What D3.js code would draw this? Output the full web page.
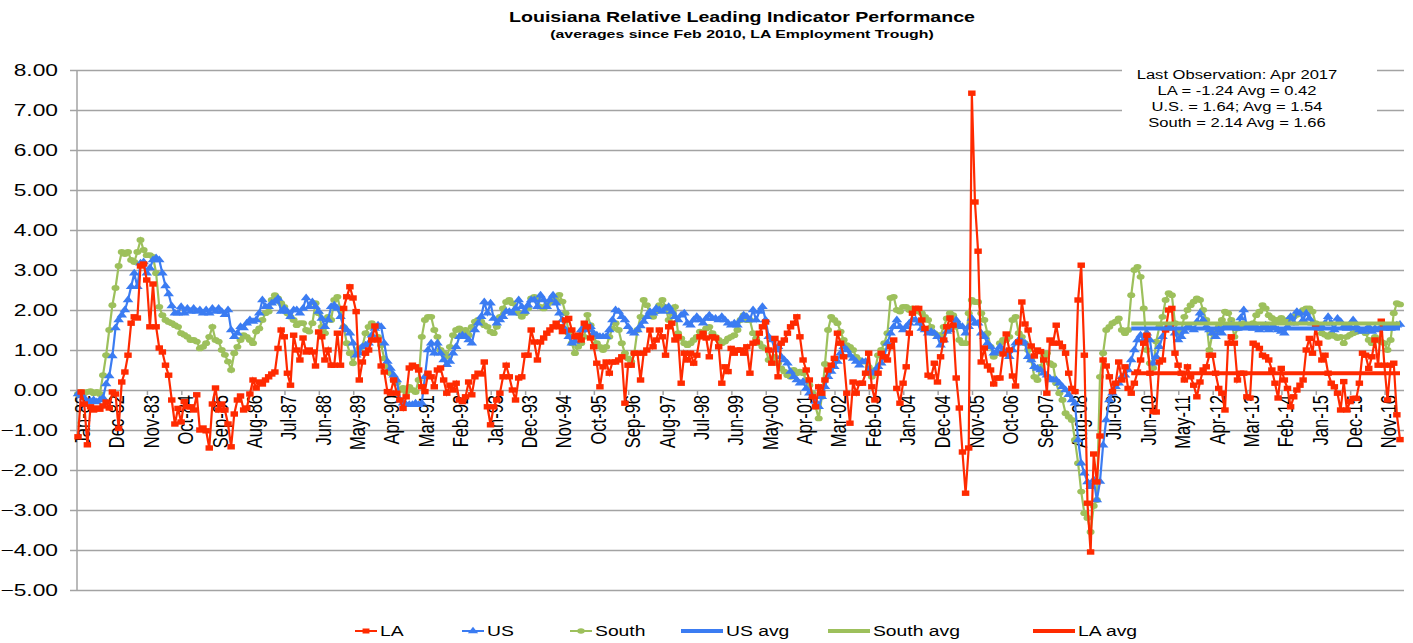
<!DOCTYPE html>
<html>
<head>
<meta charset="utf-8">
<script src="https://cdn.jsdelivr.net/npm/d3@7"></script>
<style>
  body { margin: 0; background: #fff; }
  svg text { font-family: "Liberation Sans", Arial, sans-serif; fill: #000; }
  .ns { vector-effect: non-scaling-stroke; }
</style>
</head>
<body>
<svg id="chart" width="1413" height="643"></svg>
<script>
// ── data ────────────────────────────────────────────────────────────
// monthly, Jan 1982 .. Apr 2017
const months = d3.timeMonth.range(new Date(1982, 0, 1), new Date(2017, 4, 1));

const tickLabels = ['Jan-82','Dec-82','Nov-83','Oct-84','Sep-85','Aug-86','Jul-87','Jun-88',
  'May-89','Apr-90','Mar-91','Feb-92','Jan-93','Dec-93','Nov-94','Oct-95','Sep-96','Aug-97',
  'Jul-98','Jun-99','May-00','Apr-01','Mar-02','Feb-03','Jan-04','Dec-04','Nov-05','Oct-06',
  'Sep-07','Aug-08','Jul-09','Jun-10','May-11','Apr-12','Mar-13','Feb-14','Jan-15','Dec-15','Nov-16'];
const tickStep = 11;

const yTicks = [-5, -4, -3, -2, -1, 0, 1, 2, 3, 4, 5, 6, 7, 8];

const la = [
  -1.17,-0.05,-0.35,-1.37,-0.42,-0.50,-0.45,-0.48,-0.40,-0.30,-0.45,-0.05, // 1982
  -0.10,-0.96, 0.20, 0.45, 0.87, 1.67, 1.83, 1.80, 3.10, 3.15, 2.75, 1.58, // 1983
   2.65, 1.58, 1.05, 0.95, 0.62, 0.37,-0.25,-0.85,-0.46,-0.80,-0.29,-0.42, // 1984
  -0.42,-0.50,-0.12,-1.00,-0.95,-1.02,-1.45,-0.35, 0.05,-0.50,-0.35,-0.50, // 1985
  -0.85,-1.42,-0.60,-0.25,-0.15,-0.50,-0.45,-0.10, 0.25, 0.05, 0.20, 0.15, // 1986
   0.25, 0.33, 0.40, 0.45, 1.04, 1.50, 1.33, 0.42, 0.12, 1.37, 1.00, 0.75, // 1987
   1.30, 0.95, 1.00, 0.95, 0.60, 1.45, 1.33, 0.75, 1.00, 0.62, 0.62, 1.42, // 1988
   0.62, 2.04, 2.33, 2.58, 2.30, 1.96, 0.25, 0.70, 0.92, 1.00, 1.25, 1.60, // 1989
   1.25, 0.60, 0.45,-0.04,-0.08, 0.25,-0.08,-0.25,-0.46,-0.17, 0.55, 0.62, // 1990
   0.58, 0.50, 0.08,-0.04, 0.42, 0.33, 0.08, 0.50, 0.55, 0.25,-0.08, 0.12, // 1991
   0.00, 0.17,-0.25,-0.29,-0.17, 0.20,-0.12, 0.33, 0.42, 0.40, 0.70,-0.42, // 1992
  -0.87,-0.42,-0.25,-0.08, 0.33, 0.62, 0.33, 0.00,-0.25, 0.30, 0.33, 0.87, // 1993
   0.87, 1.50, 1.20, 0.75, 1.20, 1.30, 1.42, 1.50, 1.58, 1.67, 1.58, 1.46, // 1994
   1.75, 1.79, 1.50, 1.33, 1.37, 1.25, 1.67, 1.58, 1.30, 1.08, 0.67, 0.08, // 1995
   0.58, 0.70, 0.42, 0.70, 0.70, 0.75, 0.83,-0.33, 0.62, 0.62, 0.92, 0.92, // 1996
   0.25, 0.92, 1.00, 1.50, 1.08, 1.25, 1.50, 1.33, 0.87, 1.58, 1.67, 1.25, // 1997
   1.33, 0.17, 0.92, 0.75, 0.92, 0.67, 0.87, 1.33, 1.42, 1.30, 0.83, 1.33, // 1998
   1.30, 1.08, 0.17, 0.58, 0.46, 1.04, 0.92, 1.00, 1.00, 0.92, 1.08, 0.42, // 1999
   1.17, 1.20, 1.42, 1.58, 1.70, 1.00, 0.67, 1.29, 0.33, 1.17, 1.25, 1.42, // 2000
   1.58, 1.67, 1.83, 1.33, 0.75, 0.50, 0.25,-0.17,-0.42, 0.08,-0.08, 0.25, // 2001
   0.50, 0.62, 0.79, 1.42, 1.17, 0.83,-0.08,-0.83, 0.20,-0.08, 0.17, 0.17, // 2002
   0.42, 0.92, 0.08,-0.25, 0.42, 0.92, 0.83, 0.75, 1.08, 1.25, 0.04,-0.33, // 2003
   0.17, 0.58, 1.42, 1.92, 2.04, 2.04, 1.75, 1.54, 0.37, 0.33, 0.67, 0.20, // 2004
   0.83, 1.25, 1.58, 1.80, 1.62, 0.30,-0.45,-1.55,-2.58,-1.45, 7.42, 4.70, // 2005
   3.47, 0.70, 1.05, 0.60, 0.50, 0.15, 0.30, 0.30, 0.90, 1.40, 1.00, 0.35, // 2006
   0.10, 1.20, 2.20, 1.65, 1.50, 1.10, 0.85, 1.00, 0.96, 0.75,-0.08, 1.25, // 2007
   1.17, 1.62, 1.17, 1.08, 0.92, 0.42, 0.04,-0.04, 2.25, 3.12, 0.87,-2.83, // 2008
  -4.05,-1.60,-2.30,-1.15, 0.75, 0.60, 0.33,-0.04, 0.17, 0.70, 0.25, 0.58, // 2009
   0.04,-0.08, 0.17, 0.45, 0.75, 1.17, 1.37, 0.42,-0.54,-0.55, 0.70, 0.75, // 2010
   1.50, 2.00, 2.04, 0.92, 0.62, 0.42, 0.25, 0.58, 0.33, 0.12,-0.17, 0.20, // 2011
   0.50, 0.58, 0.87, 0.87, 0.42, 0.04,-0.08,-0.50, 1.17, 1.33, 1.17, 0.25, // 2012
   0.42, 0.42,-0.17,-0.20, 1.17, 1.12, 1.04, 0.87, 0.83, 0.75, 0.50, 0.17, // 2013
  -0.20, 0.54, 0.25, 0.04,-0.42,-0.17, 0.00, 0.12, 0.25, 1.00, 1.29, 0.92, // 2014
   1.58, 1.17, 0.75, 0.87, 0.42, 0.17, 0.08,-0.08,-0.50, 0.21,-0.50,-0.29, // 2015
  -0.21,-0.21, 0.17, 0.92, 0.87, 0.54, 0.83, 1.25, 0.62, 1.72, 0.62,-0.25, // 2016
   0.62, 0.67,-0.62,-1.24                                                  // 2017
];

const us = [
  -0.10,-0.15,-0.20,-0.30,-0.28,-0.25,-0.30,-0.25,-0.20, 0.15, 0.35, 0.85, // 1982
   1.55, 1.75, 1.87, 2.00, 2.25, 2.58, 2.92, 2.58, 3.17, 3.20, 2.92, 3.05, // 1983
   3.25, 3.30, 3.25, 2.92, 2.60, 2.40, 2.10, 1.92, 1.92, 2.08, 1.92, 2.04, // 1984
   1.96, 2.04, 1.96, 2.00, 1.92, 2.00, 1.92, 2.04, 1.96, 2.04, 1.96, 1.88, // 1985
   2.00, 1.50, 1.33, 1.42, 1.58, 1.55, 1.67, 1.75, 1.71, 1.75, 1.92, 2.25, // 1986
   2.08, 2.08, 2.17, 2.21, 2.29, 1.96, 2.04, 1.96, 1.83, 2.00, 2.00, 1.92, // 1987
   2.04, 2.30, 2.08, 2.20, 2.08, 1.96, 1.79, 1.58, 1.75, 2.08, 2.12, 2.04, // 1988
   1.83, 1.58, 1.50, 1.42, 1.17, 0.87, 0.92, 1.08, 1.12, 1.17, 1.37, 1.54, // 1989
   1.62, 1.58, 1.17, 0.71, 0.54, 0.37, 0.25,-0.25,-0.33,-0.37,-0.37,-0.37, // 1990
  -0.33,-0.37,-0.33, 0.33, 1.00, 1.17, 0.92, 1.17, 0.92, 0.75, 0.63, 0.71, // 1991
   0.92, 1.08, 1.33, 1.37, 1.33, 1.25, 1.17, 1.50, 1.67, 1.83, 2.20, 1.92, // 1992
   2.17, 1.79, 1.67, 1.75, 1.83, 1.96, 1.96, 1.92, 2.04, 2.25, 2.08, 1.96, // 1993
   2.12, 2.25, 2.25, 2.08, 2.37, 2.25, 2.08, 2.25, 2.37, 2.17, 1.92, 1.75, // 1994
   1.50, 1.33, 1.17, 1.21, 1.33, 1.50, 1.58, 1.50, 1.58, 1.42, 1.37, 1.33, // 1995
   1.33, 1.33, 1.50, 1.75, 2.00, 1.96, 1.83, 1.75, 1.58, 1.46, 1.42, 1.50, // 1996
   1.60, 1.71, 1.83, 1.96, 1.92, 2.04, 2.00, 1.96, 2.04, 2.08, 1.96, 1.83, // 1997
   1.75, 1.87, 1.92, 1.67, 1.62, 1.75, 1.83, 1.75, 1.67, 1.79, 1.87, 1.79, // 1998
   1.79, 1.75, 1.83, 1.75, 1.67, 1.62, 1.67, 1.62, 1.75, 1.87, 1.83, 1.75, // 1999
   2.00, 1.75, 1.96, 2.08, 1.75, 1.33, 1.25, 1.00, 1.08, 0.83, 0.75, 0.67, // 2000
   0.46, 0.33, 0.25, 0.17, 0.21, 0.04,-0.08,-0.17,-0.29,-0.42,-0.17, 0.08, // 2001
   0.33, 0.46, 0.58, 0.71, 0.92, 1.08, 1.00, 0.87, 0.79, 0.71, 0.62, 0.71, // 2002
   0.71, 0.50, 0.42, 0.46, 0.58, 0.67, 0.83, 1.17, 1.42, 1.58, 1.75, 1.58, // 2003
   1.50, 1.58, 1.67, 1.75, 1.75, 1.67, 1.54, 1.50, 1.42, 1.46, 1.42, 1.33, // 2004
   1.12, 1.25, 1.46, 1.50, 1.62, 1.75, 1.62, 1.58, 1.42, 1.58, 1.79, 1.67, // 2005
   1.67, 1.42, 1.33, 1.17, 1.08, 0.92, 0.96, 1.08, 1.00, 0.92, 0.83, 1.00, // 2006
   1.17, 1.25, 1.21, 1.17, 0.83, 0.75, 0.58, 0.54, 0.50, 0.42, 0.37, 0.29, // 2007
   0.25, 0.25, 0.17, 0.08, 0.00,-0.12,-0.25,-0.33,-1.25,-1.83,-2.08,-2.30, // 2008
  -2.42,-2.25,-2.75,-2.29,-1.38,-0.75,-0.25,-0.08, 0.08, 0.17, 0.33, 0.37, // 2009
   0.50, 0.75, 1.00, 1.25, 1.37, 1.25, 1.42, 1.25, 0.67, 0.83, 1.08, 1.33, // 2010
   1.54, 1.58, 1.54, 1.42, 1.25, 1.33, 1.46, 1.58, 1.55, 1.50, 1.70, 1.92, // 2011
   1.75, 1.58, 1.50, 1.42, 1.33, 1.50, 1.42, 1.58, 1.58, 1.62, 1.58, 1.54, // 2012
   1.80, 2.00, 1.58, 1.58, 1.54, 1.58, 1.50, 1.58, 1.62, 1.50, 1.58, 1.55, // 2013
   1.50, 1.46, 1.42, 1.58, 1.83, 1.67, 1.96, 1.92, 1.75, 1.92, 1.79, 1.67, // 2014
   1.58, 1.54, 1.58, 1.67, 1.83, 1.67, 1.50, 1.79, 1.71, 1.58, 1.54, 1.58, // 2015
   1.75, 1.58, 1.50, 1.46, 1.50, 1.58, 1.46, 1.54, 1.50, 1.58, 1.54, 1.58, // 2016
   1.54, 1.58, 1.62, 1.64                                                  // 2017
];

const south = [
  -0.10,-0.05,-0.08,-0.05,-0.03,-0.08,-0.05,-0.10, 0.37, 0.87, 1.50, 2.12, // 1982
   2.55, 3.10, 3.45, 3.40, 3.45, 3.25, 3.20, 3.45, 3.75, 3.50, 3.37, 3.37, // 1983
   3.33, 2.92, 2.08, 1.87, 1.75, 1.70, 1.67, 1.62, 1.58, 1.42, 1.38, 1.33, // 1984
   1.25, 1.25, 1.21, 1.04, 1.08, 1.17, 1.33, 1.58, 1.25, 1.21, 1.00, 0.88, // 1985
   0.71, 0.50, 0.92, 1.08, 1.25, 1.37, 1.33, 1.25, 1.17, 1.46, 1.54, 1.75, // 1986
   1.92, 1.96, 2.25, 2.37, 2.29, 2.17, 2.08, 1.92, 1.83, 1.75, 1.62, 1.67, // 1987
   1.67, 1.50, 1.46, 1.67, 2.17, 1.92, 1.58, 1.42, 1.83, 1.75, 2.25, 2.33, // 1988
   2.00, 1.58, 1.17, 0.92, 0.67, 0.92, 1.04, 1.08, 1.42, 1.58, 1.67, 1.58, // 1989
   1.33, 1.12, 0.79, 0.58, 0.42, 0.25, 0.17, 0.00, 0.05,-0.05, 0.08, 0.00, // 1990
  -0.05, 0.25, 1.33, 1.75, 1.83, 1.83, 1.50, 1.33, 1.00, 0.92, 0.83, 1.08, // 1991
   1.37, 1.50, 1.54, 1.42, 1.50, 1.37, 1.58, 1.71, 1.75, 1.71, 1.62, 1.58, // 1992
   1.46, 1.42, 1.58, 1.83, 2.04, 2.20, 2.25, 2.17, 2.00, 1.92, 1.83, 1.92, // 1993
   2.04, 2.29, 2.33, 2.25, 2.08, 2.04, 2.12, 2.20, 2.33, 2.25, 2.38, 2.21, // 1994
   1.92, 1.42, 1.17, 0.92, 1.08, 1.17, 1.33, 1.88, 1.62, 1.33, 1.17, 1.08, // 1995
   1.00, 1.08, 1.33, 1.54, 1.67, 1.50, 1.17, 0.92, 0.79, 0.71, 0.92, 1.50, // 1996
   1.83, 2.25, 2.12, 1.92, 1.83, 1.96, 2.12, 2.25, 2.08, 1.75, 1.92, 2.08, // 1997
   1.42, 1.29, 1.17, 1.12, 1.17, 1.25, 1.33, 1.46, 1.42, 1.54, 1.58, 1.42, // 1998
   1.33, 1.25, 1.17, 1.21, 1.29, 1.33, 1.37, 1.50, 1.75, 1.87, 1.75, 1.75, // 1999
   1.42, 1.29, 1.17, 1.08, 1.04, 0.75, 0.71, 0.83, 0.67, 0.54, 0.46, 0.37, // 2000
   0.33, 0.50, 0.42, 0.46, 0.42, 0.25, 0.12,-0.08,-0.42,-0.71,-0.17, 0.65, // 2001
   1.50, 1.83, 1.75, 1.67, 1.46, 1.25, 1.12, 1.08, 1.00, 0.83, 0.75, 0.71, // 2002
   0.71, 0.58, 0.33, 0.50, 0.87, 1.00, 1.17, 1.42, 2.30, 2.33, 2.00, 1.96, // 2003
   2.08, 2.08, 2.00, 2.04, 2.00, 1.96, 1.92, 1.83, 1.75, 1.58, 1.42, 1.37, // 2004
   1.37, 1.58, 1.79, 1.92, 1.87, 1.58, 1.25, 1.17, 1.17, 1.92, 2.25, 2.20, // 2005
   2.20, 1.92, 1.75, 1.42, 1.08, 0.83, 0.92, 1.17, 1.25, 1.25, 1.33, 1.75, // 2006
   1.83, 1.42, 1.33, 1.17, 1.00, 0.75, 0.33, 0.25, 0.58, 0.83, 0.92, 0.67, // 2007
   0.62, 0.17,-0.08,-0.25,-0.58,-0.67,-0.75,-1.25,-1.83,-2.54,-3.08,-3.20, // 2008
  -3.55,-2.90,-2.75, 0.33, 0.92, 1.50, 1.58, 1.67, 1.71, 1.79, 1.50, 1.42, // 2009
   1.50, 2.37, 3.00, 3.08, 2.83, 2.04, 1.00, 0.67, 0.55, 1.21, 1.58, 1.83, // 2010
   2.25, 2.42, 2.37, 1.67, 1.42, 1.50, 1.83, 2.00, 2.12, 2.21, 2.29, 2.25, // 2011
   2.00, 1.75, 1.00, 1.42, 1.46, 1.58, 1.75, 1.96, 1.92, 1.75, 1.33, 1.54, // 2012
   1.60, 1.67, 1.58, 1.58, 1.67, 1.87, 1.96, 2.12, 2.04, 1.87, 1.80, 1.75, // 2013
   1.75, 1.80, 1.70, 1.75, 1.80, 1.83, 1.88, 1.92, 2.00, 2.04, 2.04, 1.96, // 2014
   1.67, 1.55, 1.42, 1.38, 1.33, 1.40, 1.35, 1.30, 1.33, 1.17, 1.33, 1.38, // 2015
   1.42, 1.45, 1.50, 1.47, 1.42, 1.25, 1.17, 1.33, 1.25, 1.20, 1.17, 1.00, // 2016
   1.25, 1.92, 2.17, 2.14                                                  // 2017
];

// averages since Feb 2010 (LA employment trough)
const avgStart = 337;               // index of Feb-10
const avgNames = ['US avg', 'South avg', 'LA avg'];
const avgValues = [1.54, 1.66, 0.42];

const noteLines = ['Last Observation: Apr 2017', 'LA = -1.24 Avg = 0.42',
  'U.S. = 1.64; Avg = 1.54', 'South = 2.14 Avg = 1.66'];

// ── drawing ─────────────────────────────────────────────────────────
const W = 1413, H = 643;
const SX = 1.38;                 // the picture is stretched horizontally
const px = v => v / SX;          // screen x -> inner x

const C = { la: '#ff2a00', us: '#3b7cf2', south: '#9dc05c', grid: '#a3a3a3' };

const svg = d3.select('#chart');
svg.append('rect').attr('width', W).attr('height', H).attr('fill', '#fff');
const g = svg.append('g').attr('transform', `scale(${SX},1)`);

const x = d3.scaleLinear().domain([0, months.length - 1]).range([px(78), px(1400)]);
const y = d3.scaleLinear().domain([-5, 8]).range([590, 70]);

// gridlines + y labels
const yAxis = d3.axisLeft(y).tickValues(yTicks).tickFormat(d3.format('.2f'))
  .tickSize(-(px(1404) - px(70))).tickPadding(px(12));
const yG = g.append('g').attr('transform', `translate(${px(70)},0)`).call(yAxis);
yG.select('.domain').remove();
yG.selectAll('line').attr('stroke', C.grid).attr('stroke-width', 1.3).attr('class', 'ns');
yG.selectAll('text').attr('font-size', 16.5).attr('fill', '#000');

// y axis line
g.append('line').attr('class', 'ns')
  .attr('x1', px(77)).attr('x2', px(77)).attr('y1', y(8)).attr('y2', y(-5))
  .attr('stroke', C.grid).attr('stroke-width', 1.5);

// x axis at zero
const xAxis = d3.axisBottom(x)
  .tickValues(tickLabels.map((_, i) => i * tickStep))
  .tickFormat((d, i) => tickLabels[i]).tickSize(5).tickSizeOuter(0);
const xG = g.append('g').attr('transform', `translate(0,${y(0)})`).call(xAxis);
xG.select('.domain').remove();
xG.selectAll('line').attr('stroke', C.grid).attr('stroke-width', 1.5).attr('class', 'ns');
xG.selectAll('text')
  .attr('transform', 'rotate(-90)')
  .attr('text-anchor', 'end')
  .attr('x', -5).attr('y', 0).attr('dy', '0.5em')
  .attr('font-size', 16.5).attr('fill', '#000');

// annotation box (covers gridlines)
g.append('rect').attr('x', px(1122)).attr('y', 61).attr('width', px(1377) - px(1122)).attr('height', 72)
  .attr('fill', '#fff');
g.append('g').selectAll('text').data(noteLines).join('text')
  .attr('x', px(1237)).attr('y', (d, i) => 79 + i * 16)
  .attr('text-anchor', 'middle').attr('font-size', 12)
  .text(d => d);

// series
const line = d3.line().x((d, i) => x(i)).y(d => y(d));

function drawSeries(data, color) {
  const s = g.append('g');
  s.append('path').datum(data).attr('class', 'ns')
    .attr('d', line).attr('fill', 'none').attr('stroke', color).attr('stroke-width', 2.2);
  return s;
}

const sS = drawSeries(south, C.south);
sS.selectAll('circle').data(south).join('circle')
  .attr('cx', (d, i) => x(i)).attr('cy', d => y(d)).attr('r', 2.9).attr('fill', C.south);

const uS = drawSeries(us, C.us);
uS.selectAll('path.m').data(us).join('path').attr('class', 'm')
  .attr('d', d3.symbol(d3.symbolTriangle, 26))
  .attr('transform', (d, i) => `translate(${x(i)},${y(d)})`).attr('fill', C.us);

const lS = drawSeries(la, C.la);
lS.selectAll('rect').data(la).join('rect')
  .attr('x', (d, i) => x(i) - 2.7).attr('y', d => y(d) - 2.7)
  .attr('width', 5.4).attr('height', 5.4).attr('fill', C.la);

// average lines since Feb 2010
const avgColors = [C.us, C.south, C.la];
g.append('g').selectAll('line').data(avgValues).join('line')
  .attr('x1', x(avgStart)).attr('x2', x(months.length - 1))
  .attr('y1', d => y(d)).attr('y2', d => y(d))
  .attr('stroke', (d, i) => avgColors[i]).attr('stroke-width', 4);

// title
g.append('text').attr('x', px(742)).attr('y', 22).attr('text-anchor', 'middle')
  .attr('font-size', 14.2).attr('font-weight', 'bold')
  .text('Louisiana Relative Leading Indicator Performance');
g.append('text').attr('x', px(742)).attr('y', 38).attr('text-anchor', 'middle')
  .attr('font-size', 11.5).attr('font-weight', 'bold')
  .text('(averages since Feb 2010, LA Employment Trough)');

// legend
const legend = [
  { name: 'LA', color: C.la, mark: 'square', x: 355 },
  { name: 'US', color: C.us, mark: 'triangle', x: 462 },
  { name: 'South', color: C.south, mark: 'circle', x: 570 },
  { name: avgNames[0], color: C.us, mark: null, x: 681 },
  { name: avgNames[1], color: C.south, mark: null, x: 828 },
  { name: avgNames[2], color: C.la, mark: null, x: 1033 }
];
const lg = g.append('g');
legend.forEach(it => {
  const x0 = px(it.x), len = px(it.mark ? 22 : 42), ly = 631;
  lg.append('line').attr('x1', x0).attr('x2', x0 + len).attr('y1', ly).attr('y2', ly)
    .attr('stroke', it.color).attr('stroke-width', it.mark ? 2 : 4);
  const cx = x0 + len / 2;
  if (it.mark === 'square') lg.append('rect').attr('x', cx - 2.5).attr('y', ly - 2.5).attr('width', 5).attr('height', 5).attr('fill', it.color);
  if (it.mark === 'triangle') lg.append('path').attr('d', d3.symbol(d3.symbolTriangle, 24)).attr('transform', `translate(${cx},${ly})`).attr('fill', it.color);
  if (it.mark === 'circle') lg.append('circle').attr('cx', cx).attr('cy', ly).attr('r', 2.7).attr('fill', it.color);
  lg.append('text').attr('x', x0 + len + px(3)).attr('y', ly).attr('dy', '0.35em')
    .attr('font-size', 14).text(it.name);
});
</script>
</body>
</html>
